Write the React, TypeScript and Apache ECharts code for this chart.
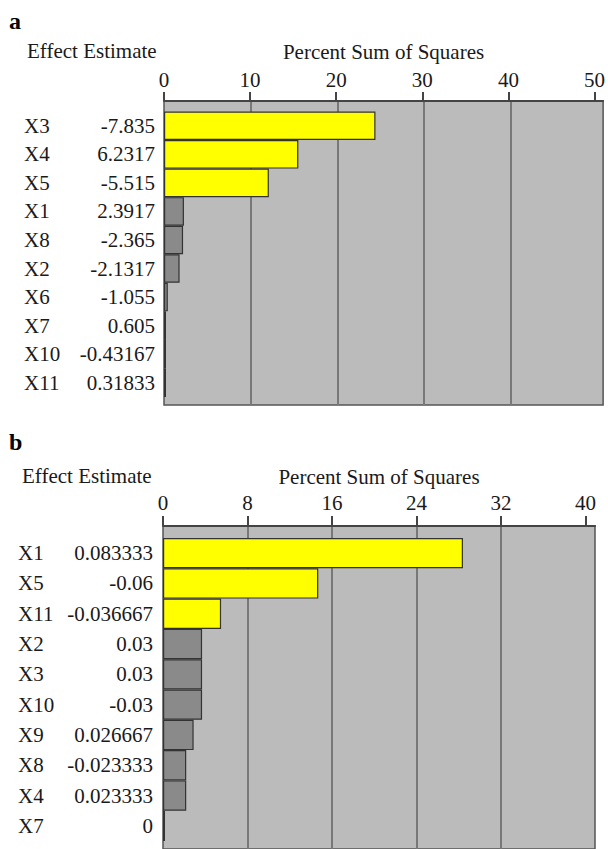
import React, { useEffect, useRef } from "react";
import * as echarts from "echarts";

// ---------- data ----------
const factorsA = ["X3", "X4", "X5", "X1", "X8", "X2", "X6", "X7", "X10", "X11"];
const effectsA = ["-7.835", "6.2317", "-5.515", "2.3917", "-2.365", "-2.1317", "-1.055", "0.605", "-0.43167", "0.31833"];
const percentA = [24.4, 15.5, 12.1, 2.3, 2.2, 1.8, 0.44, 0.15, 0.07, 0.04];
const significantA = [true, true, true, false, false, false, false, false, false, false];
const ticksA = [0, 10, 20, 30, 40, 50];

const factorsB = ["X1", "X5", "X11", "X2", "X3", "X10", "X9", "X8", "X4", "X7"];
const effectsB = ["0.083333", "-0.06", "-0.036667", "0.03", "0.03", "-0.03", "0.026667", "-0.023333", "0.023333", "0"];
const percentB = [28.4, 14.7, 5.5, 3.7, 3.7, 3.7, 2.9, 2.2, 2.2, 0];
const significantB = [true, true, true, false, false, false, false, false, false, false];
const ticksB = [0, 8, 16, 24, 32, 40];

const panelLabels = ["a", "b"];
const leftTitle = "Effect Estimate";
const axisTitle = "Percent Sum of Squares";

// ---------- style ----------
const FONT = "'Liberation Serif', 'Times New Roman', serif";
const FS = 21;
const TEXT = "#1a1a1a";
const BOX_BG = "#BBBBBB";
const GRID_LINE = "#787878";
const YELLOW = "#FFFF00";
const GREY_BAR = "#8A8A8A";

type Layout = {
  boxLeft: number;
  boxTop: number;
  boxWidth: number;
  boxHeight: number;
  axisMax: number;
  barTop: number;
  barHeight: number;
  labelMargin: number;
  nameW: number;
  valW: number;
  tickLen: number;
  tickMargin: number;
  nameGap: number;
};

function buildPanel(
  idx: number,
  L: Layout,
  factors: string[],
  effects: string[],
  percent: number[],
  significant: boolean[],
  ticks: number[]
) {
  const base = idx * 3;
  const step = ticks[1] - ticks[0];
  const lastTick = ticks[ticks.length - 1];
  const grids = [
    {
      left: L.boxLeft,
      top: L.boxTop,
      width: L.boxWidth,
      height: L.boxHeight,
      show: true,
      backgroundColor: BOX_BG,
      borderColor: "#555555",
      borderWidth: 1.5,
    },
    {
      left: L.boxLeft,
      top: L.boxTop,
      width: (L.boxWidth * lastTick) / L.axisMax,
      height: L.boxHeight,
    },
    {
      left: L.boxLeft,
      top: L.barTop,
      width: L.boxWidth,
      height: L.barHeight,
    },
  ];
  const xAxes = [
    {
      gridIndex: base,
      type: "value",
      position: "top",
      min: 0,
      max: L.axisMax,
      axisLine: { show: true, onZero: false, lineStyle: { color: "#444", width: 2 } },
      axisTick: {
        show: true,
        customValues: ticks,
        length: L.tickLen,
        lineStyle: { color: "#444", width: 2 },
      },
      axisLabel: {
        customValues: ticks,
        margin: L.tickMargin,
        fontSize: FS,
        fontFamily: FONT,
        color: TEXT,
      },
      splitLine: { show: false },
      name: axisTitle,
      nameLocation: "middle",
      nameGap: L.nameGap,
      nameTextStyle: { fontSize: FS, fontFamily: FONT, color: TEXT },
    },
    {
      gridIndex: base + 1,
      type: "value",
      min: 0,
      max: lastTick,
      interval: step,
      axisLine: { show: false },
      axisTick: { show: false },
      axisLabel: { show: false },
      splitLine: {
        show: true,
        showMinLine: false,
        showMaxLine: false,
        lineStyle: { color: GRID_LINE, width: 2 },
      },
    },
    {
      gridIndex: base + 2,
      type: "value",
      min: 0,
      max: L.axisMax,
      show: false,
    },
  ];
  const yAxes = [
    { gridIndex: base, type: "value", show: false },
    { gridIndex: base + 1, type: "value", show: false },
    {
      gridIndex: base + 2,
      type: "category",
      inverse: true,
      data: factors,
      axisLine: { show: false },
      axisTick: { show: false },
      axisLabel: {
        margin: L.labelMargin,
        formatter: (v: string, i: number) => `{n|${v}}{v|${effects[i]}}`,
        rich: {
          n: { width: L.nameW, align: "left", fontSize: FS, fontFamily: FONT, color: TEXT },
          v: { width: L.valW, align: "right", fontSize: FS, fontFamily: FONT, color: TEXT },
        },
      },
    },
  ];
  const series = [
    {
      type: "bar",
      xAxisIndex: base + 2,
      yAxisIndex: base + 2,
      barCategoryGap: 0,
      barMinHeight: 2,
      z: 3,
      data: percent.map((p, i) => ({
        value: p,
        itemStyle: {
          color: significant[i] ? YELLOW : GREY_BAR,
          borderColor: "#333333",
          borderWidth: 1.2,
        },
      })),
    },
  ];
  return { grids, xAxes, yAxes, series };
}

export default function App() {
  const ref = useRef<HTMLDivElement>(null);

  useEffect(() => {
    document.body.style.margin = "0";
    if (!ref.current) return;
    const chart = echarts.init(ref.current, undefined, { renderer: "svg" });

    const layoutA: Layout = {
      boxLeft: 164,
      boxTop: 101,
      boxWidth: 442,
      boxHeight: 304,
      axisMax: 51,
      barTop: 111.5,
      barHeight: 285.5,
      labelMargin: 9,
      nameW: 49,
      valW: 82,
      tickLen: 9,
      tickMargin: 11,
      nameGap: 39,
    };
    const layoutB: Layout = {
      boxLeft: 163,
      boxTop: 526,
      boxWidth: 432,
      boxHeight: 340,
      axisMax: 40.9,
      barTop: 538,
      barHeight: 303,
      labelMargin: 10,
      nameW: 48,
      valW: 87,
      tickLen: 10,
      tickMargin: 13,
      nameGap: 39,
    };

    const pa = buildPanel(0, layoutA, factorsA, effectsA, percentA, significantA, ticksA);
    const pb = buildPanel(1, layoutB, factorsB, effectsB, percentB, significantB, ticksB);

    const option: any = {
      animation: false,
      backgroundColor: "#ffffff",
      grid: [...pa.grids, ...pb.grids],
      xAxis: [...pa.xAxes, ...pb.xAxes],
      yAxis: [...pa.yAxes, ...pb.yAxes],
      series: [...pa.series, ...pb.series],
      graphic: [
        {
          type: "text",
          left: 9,
          top: 9,
          style: { text: panelLabels[0], fontSize: 24, fontWeight: "bold", fontFamily: FONT, fill: "#000" },
        },
        {
          type: "text",
          left: 27,
          top: 40,
          style: { text: leftTitle, fontSize: FS, fontFamily: FONT, fill: TEXT },
        },
        {
          type: "text",
          left: 9,
          top: 430,
          style: { text: panelLabels[1], fontSize: 24, fontWeight: "bold", fontFamily: FONT, fill: "#000" },
        },
        {
          type: "text",
          left: 22,
          top: 465,
          style: { text: leftTitle, fontSize: FS, fontFamily: FONT, fill: TEXT },
        },
      ],
    };
    chart.setOption(option);
    return () => chart.dispose();
  }, []);

  return <div ref={ref} style={{ width: 608, height: 849 }} />;
}
